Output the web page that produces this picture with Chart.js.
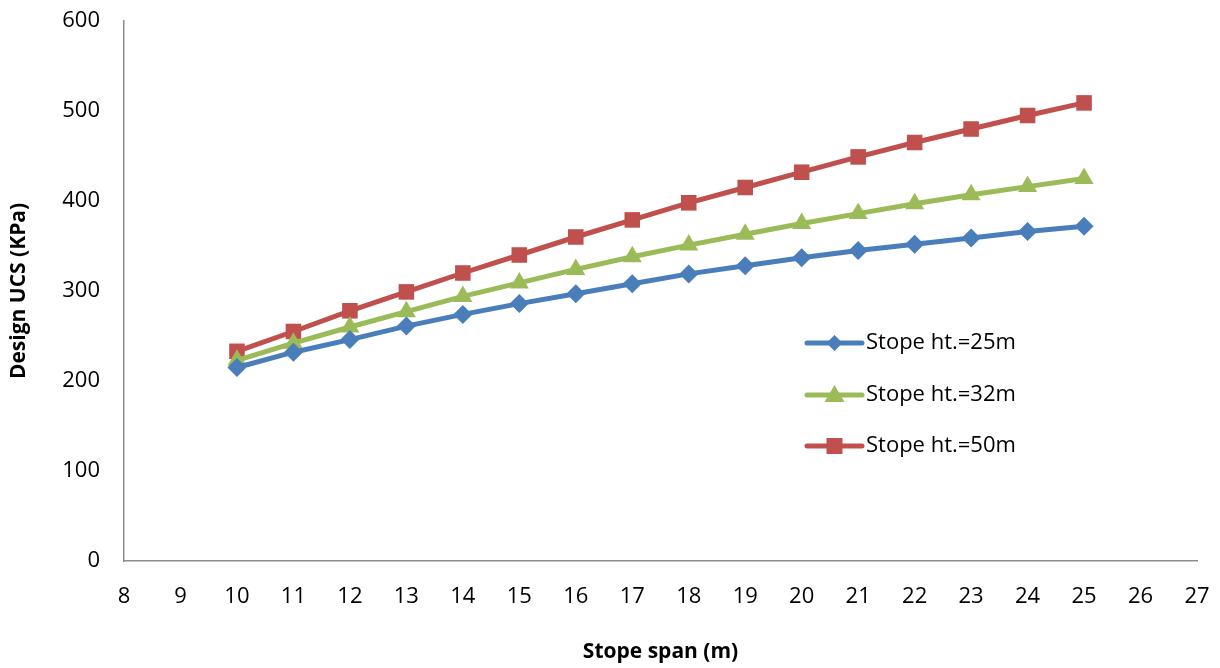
<!DOCTYPE html>
<html>
<head>
<meta charset="utf-8">
<script src="https://cdn.jsdelivr.net/npm/chart.js@4/dist/chart.umd.min.js"></script>
<style>
  html, body { margin: 0; padding: 0; background: #fff; }
  #wrap { width: 1220px; height: 668px; }
</style>
</head>
<body>
<div id="wrap"><canvas id="ucsChart" width="1220" height="668"></canvas></div>
<script>
const spans = [10, 11, 12, 13, 14, 15, 16, 17, 18, 19, 20, 21, 22, 23, 24, 25];
const ucs25 = [215, 232, 246, 261, 274, 286, 297, 308, 319, 328, 337, 345, 352, 359, 366, 372];
const ucs32 = [223, 242, 260, 277, 294, 309, 324, 338, 351, 363, 375, 386, 397, 407, 416, 425];
const ucs50 = [233, 255, 278, 299, 320, 340, 360, 379, 398, 415, 432, 449, 465, 480, 495, 509];
const seriesNames = ['Stope ht.=25m', 'Stope ht.=32m', 'Stope ht.=50m'];

const fontFamily = "'Open Sans', sans-serif";

const toPoints = vals => spans.map((s, i) => ({ x: s, y: vals[i] }));

const makeSet = (label, vals, color, style, radius) => ({
  label: label,
  data: toPoints(vals),
  borderColor: color,
  backgroundColor: color,
  borderWidth: 5,
  pointStyle: style,
  pointRadius: radius,
  pointHoverRadius: radius,
  pointBorderWidth: 0,
  tension: 0
});

// legend drawn as line + marker, like the spreadsheet legend
const lineLegend = {
  id: 'lineLegend',
  afterDatasetsDraw(chart) {
    const ctx = chart.ctx;
    const x0 = 807, x1 = 862, ys = [343, 395, 446];
    chart.data.datasets.forEach((ds, i) => {
      const y = ys[i];
      const cx = (x0 + x1) / 2;
      ctx.save();
      ctx.strokeStyle = ds.borderColor;
      ctx.lineWidth = 5;
      ctx.lineCap = 'round';
      ctx.beginPath();
      ctx.moveTo(x0, y);
      ctx.lineTo(x1, y);
      ctx.stroke();
      ctx.fillStyle = ds.backgroundColor;
      ctx.beginPath();
      if (ds.pointStyle === 'rectRot') {
        const r = 8;
        ctx.moveTo(cx, y - r); ctx.lineTo(cx + r, y); ctx.lineTo(cx, y + r); ctx.lineTo(cx - r, y);
      } else if (ds.pointStyle === 'triangle') {
        ctx.moveTo(cx, y - 10); ctx.lineTo(cx + 10, y + 7); ctx.lineTo(cx - 10, y + 7);
      } else {
        ctx.rect(cx - 8, y - 8, 16, 16);
      }
      ctx.closePath();
      ctx.fill();
      ctx.fillStyle = '#000';
      ctx.font = '22px ' + fontFamily;
      ctx.textBaseline = 'middle';
      ctx.textAlign = 'left';
      ctx.fillText(ds.label, x1 + 4, y);
      ctx.restore();
    });
  }
};

new Chart(document.getElementById('ucsChart'), {
  type: 'line',
  data: {
    datasets: [
      makeSet(seriesNames[0], ucs25, '#4A7EBB', 'rectRot', 9.5),
      makeSet(seriesNames[1], ucs32, '#9BBB59', 'triangle', 11),
      makeSet(seriesNames[2], ucs50, '#C0504D', 'rect', 11)
    ]
  },
  options: {
    responsive: false,
    animation: false,
    layout: { padding: { left: 0, right: 23, top: 21, bottom: 0 } },
    plugins: {
      legend: { display: false },
      tooltip: { enabled: false }
    },
    scales: {
      x: {
        type: 'linear',
        min: 8,
        max: 27,
        afterFit(scale) {
          scale.height = 107;
          scale.paddingLeft = 0;
          scale.paddingRight = 0;
        },
        grid: { display: false, drawTicks: false },
        border: { display: true, color: '#8C8C8C', width: 1.5 },
        ticks: {
          stepSize: 1,
          padding: 23,
          color: '#000',
          font: { family: fontFamily, size: 22 }
        },
        title: {
          display: true,
          text: 'Stope span (m)',
          color: '#000',
          font: { family: fontFamily, size: 21, weight: 'bold' },
          padding: { top: 10, bottom: 3 }
        }
      },
      y: {
        min: 0,
        max: 600,
        afterFit(scale) {
          scale.width = 124;
          scale.paddingTop = 0;
          scale.paddingBottom = 0;
        },
        grid: { display: false, drawTicks: false },
        border: { display: true, color: '#8C8C8C', width: 1.5 },
        ticks: {
          stepSize: 100,
          padding: 24,
          color: '#000',
          font: { family: fontFamily, size: 22 }
        },
        title: {
          display: true,
          text: 'Design UCS (KPa)',
          color: '#000',
          font: { family: fontFamily, size: 21, weight: 'bold' },
          padding: { top: 6, bottom: 10 }
        }
      }
    }
  },
  plugins: [lineLegend]
});
</script>
</body>
</html>
